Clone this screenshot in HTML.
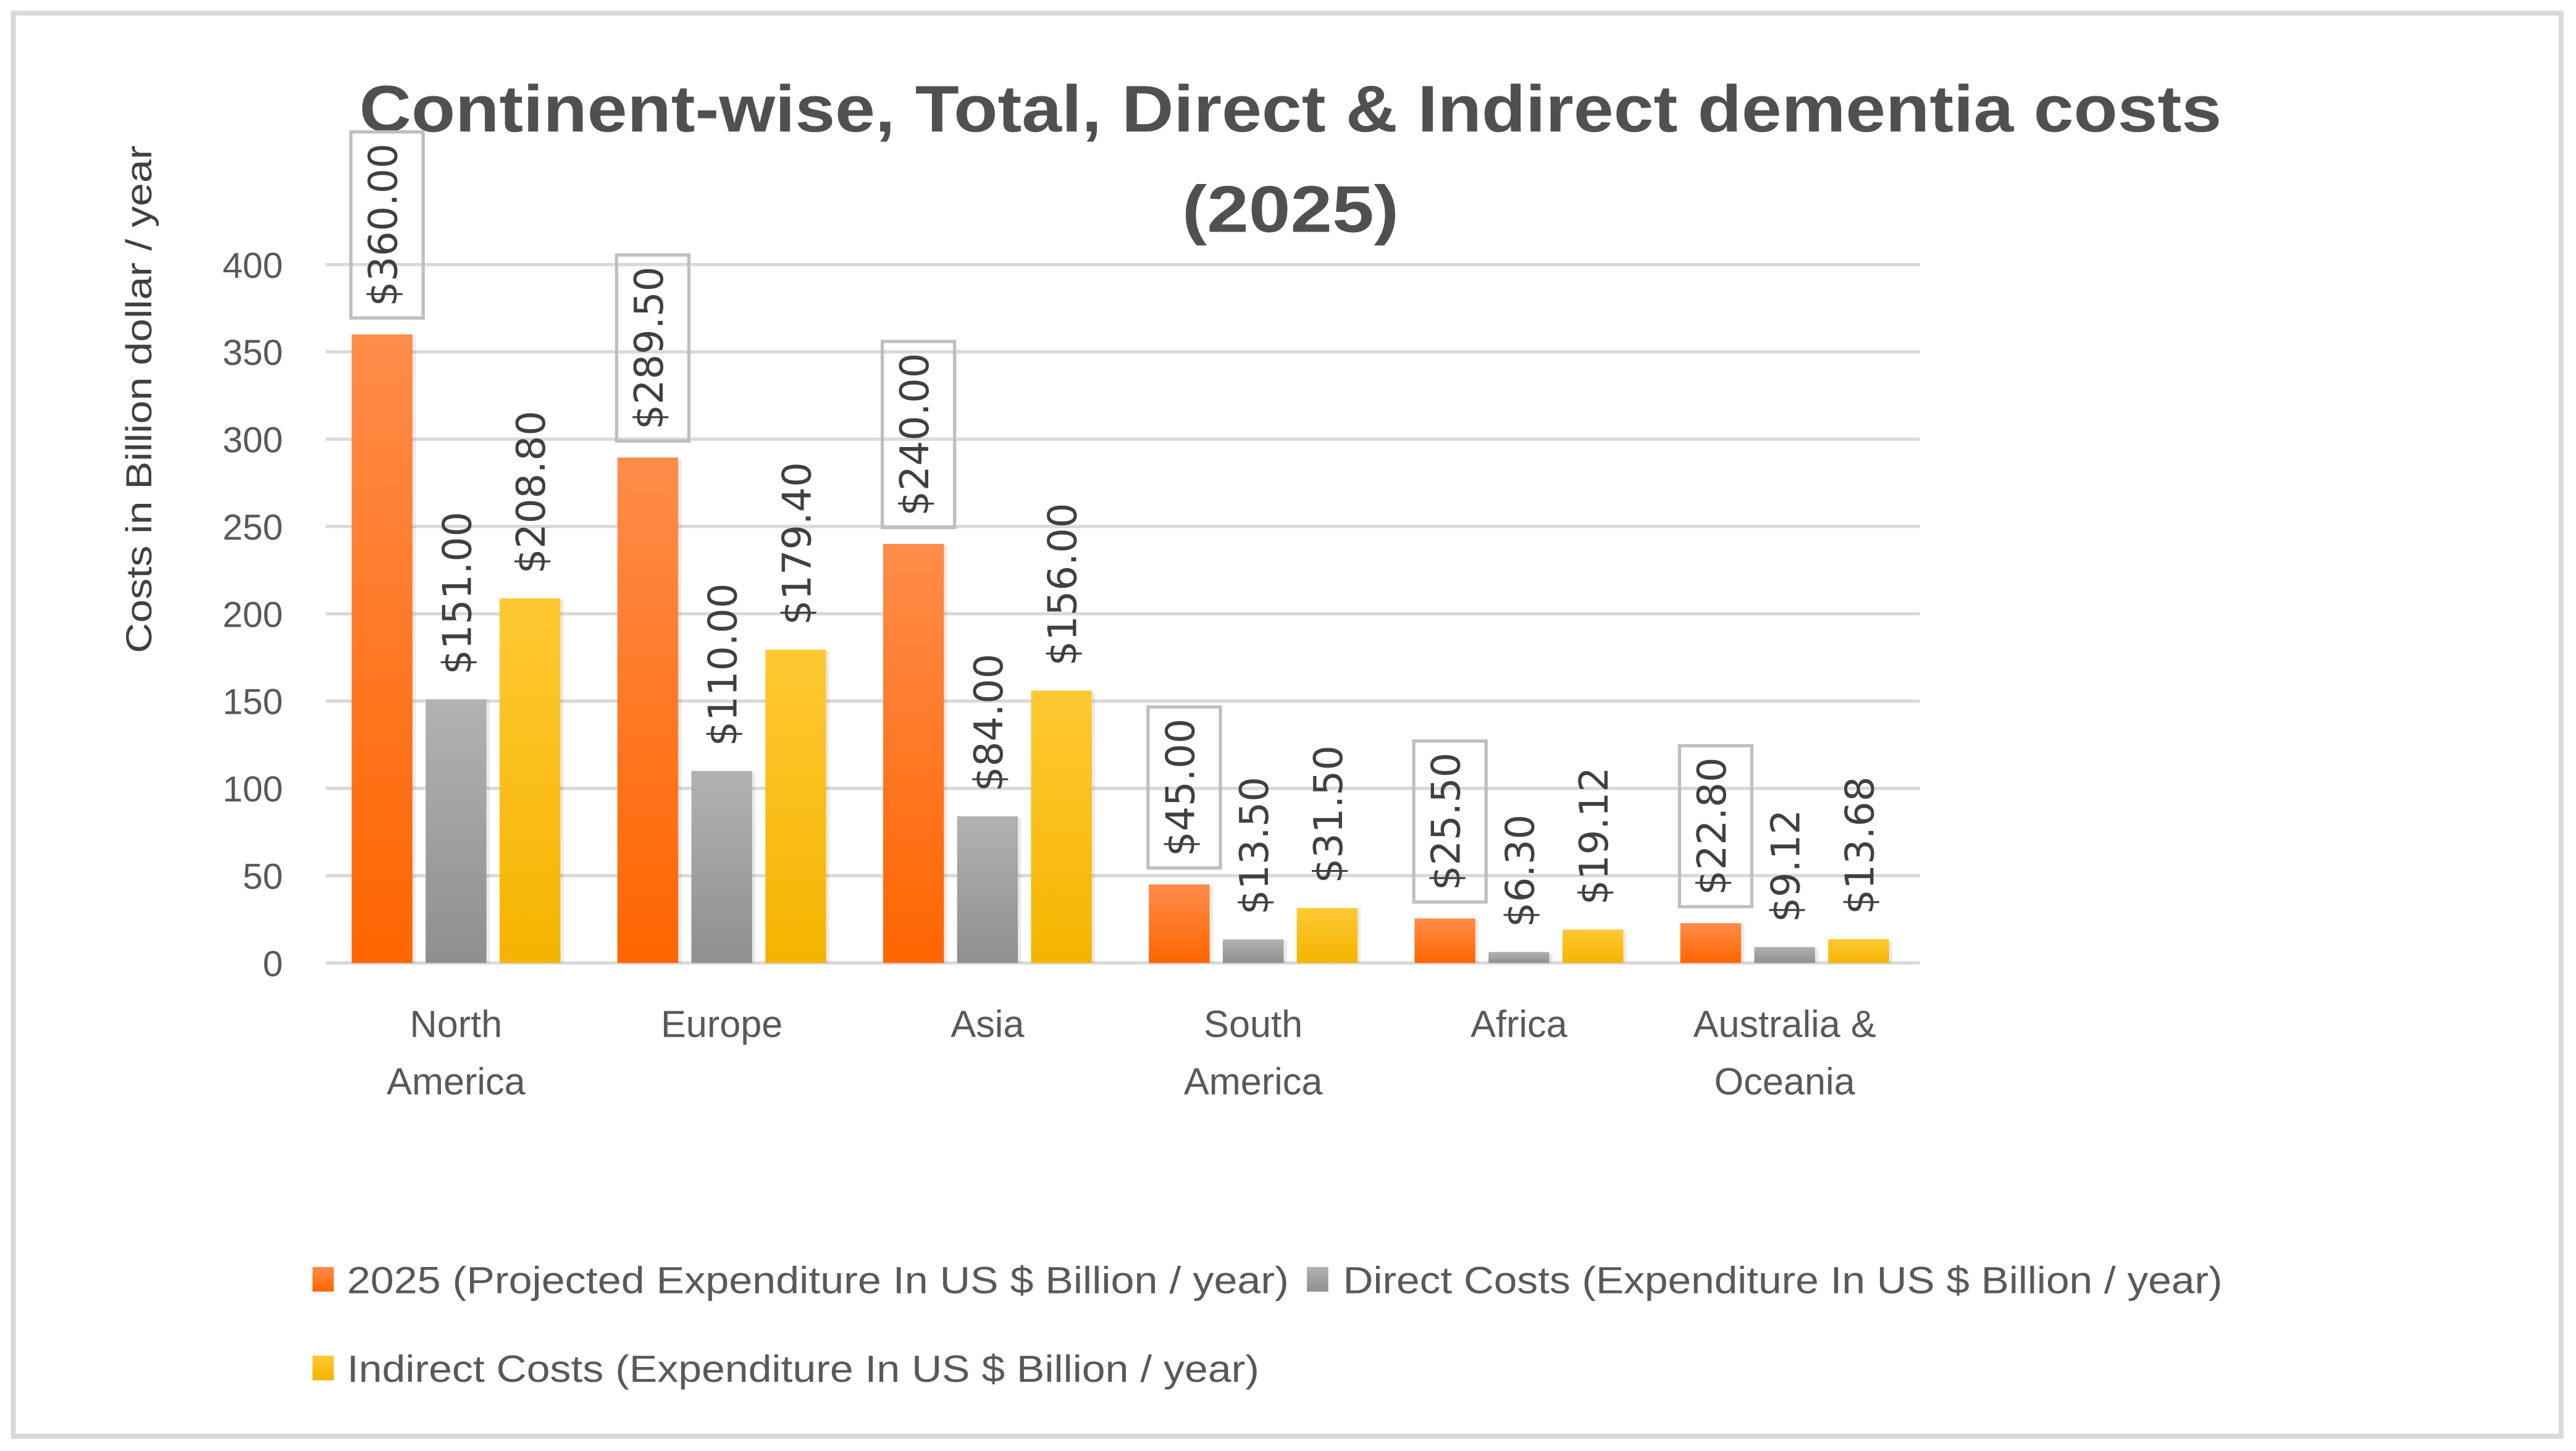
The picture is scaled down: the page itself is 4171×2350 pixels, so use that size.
<!DOCTYPE html>
<html><head><meta charset="utf-8"><style>
html,body{margin:0;padding:0;background:#fff;}
svg{display:block;}
</style></head><body>
<svg id="chart" width="4171" height="2350" viewBox="0 0 1567 883" xmlns="http://www.w3.org/2000/svg">
<defs>
<linearGradient id="gO" x1="0" y1="0" x2="0" y2="1"><stop offset="0" stop-color="#ff8c4a"/><stop offset="1" stop-color="#ff6500"/></linearGradient>
<linearGradient id="gG" x1="0" y1="0" x2="0" y2="1"><stop offset="0" stop-color="#b2b2b2"/><stop offset="1" stop-color="#8f8f8f"/></linearGradient>
<linearGradient id="gY" x1="0" y1="0" x2="0" y2="1"><stop offset="0" stop-color="#ffc933"/><stop offset="1" stop-color="#f4b400"/></linearGradient>
</defs>
<rect x="8" y="8" width="1550" height="866" fill="#fff" stroke="#d9d9d9" stroke-width="3"/>
<text x="785" y="80" text-anchor="middle" font-family="Liberation Sans, sans-serif" font-weight="bold" font-size="40" fill="#505050" textLength="1133" lengthAdjust="spacingAndGlyphs">Continent-wise, Total, Direct &amp; Indirect dementia costs</text>
<text x="785" y="141" text-anchor="middle" font-family="Liberation Sans, sans-serif" font-weight="bold" font-size="40" fill="#505050" textLength="132" lengthAdjust="spacingAndGlyphs">(2025)</text>
<text transform="translate(92,243) rotate(-90)" text-anchor="middle" font-family="Liberation Sans, sans-serif" font-size="22" fill="#404040" textLength="309" lengthAdjust="spacingAndGlyphs">Costs in Billion dollar / year</text>
<g id="grid"></g>
<g id="bars"></g>
<g id="labels"></g>
<g id="legend">
<rect x="190" y="771" width="13" height="15" fill="url(#gO)"/>
<text x="211" y="787" font-family="Liberation Sans, sans-serif" font-size="23" fill="#595959" textLength="573" lengthAdjust="spacingAndGlyphs">2025 (Projected Expenditure In US $ Billion / year)</text>
<rect x="795" y="771" width="13" height="15" fill="url(#gG)"/>
<text x="817" y="787" font-family="Liberation Sans, sans-serif" font-size="23" fill="#595959" textLength="535" lengthAdjust="spacingAndGlyphs">Direct Costs (Expenditure In US $ Billion / year)</text>
<rect x="190" y="825" width="13" height="15" fill="url(#gY)"/>
<text x="211" y="841" font-family="Liberation Sans, sans-serif" font-size="23" fill="#595959" textLength="555" lengthAdjust="spacingAndGlyphs">Indirect Costs (Expenditure In US $ Billion / year)</text>
</g>
</svg>
<script>
const categories = [["North","America"],["Europe"],["Asia"],["South","America"],["Africa"],["Australia &","Oceania"]];
const projected = [360.00, 289.50, 240.00, 45.00, 25.50, 22.80];
const direct = [151.00, 110.00, 84.00, 13.50, 6.30, 9.12];
const indirect = [208.80, 179.40, 156.00, 31.50, 19.12, 13.68];
const yTicks = [0, 50, 100, 150, 200, 250, 300, 350, 400];

const NS = "http://www.w3.org/2000/svg";
const X0 = 198, X1 = 1168, Y0 = 586, Y400 = 161;
const yScale = v => Y0 - (v / 400) * (Y0 - Y400);
const groupW = (X1 - X0) / categories.length;
const xCenter = i => X0 + groupW * (i + 0.5) - 1.5;
const BW = 37;
function mk(tag, attrs, parent, txt) {
  const e = document.createElementNS(NS, tag);
  for (const k in attrs) e.setAttribute(k, attrs[k]);
  if (txt !== undefined) e.textContent = txt;
  parent.appendChild(e);
  return e;
}
const grid = document.getElementById('grid');
yTicks.forEach(t => {
  const y = yScale(t);
  const l = mk('line', {x1: X0, x2: X1, y1: y, y2: y, stroke: '#d9d9d9', 'stroke-width': 2}, grid);
  
  
  const tx = mk('text', {x: 172, y: y + 8, 'text-anchor': 'end', 'font-family': 'Liberation Sans, sans-serif', 'font-size': 22, fill: '#595959'}, grid, String(t));
  
  
});
const series = [
  {vals: projected, fill: 'url(#gO)', off: -45, name: 'projected', boxed: true},
  {vals: direct, fill: 'url(#gG)', off: 0, name: 'direct', boxed: false},
  {vals: indirect, fill: 'url(#gY)', off: 45, name: 'indirect', boxed: false}
];
const bars = document.getElementById('bars');
const labels = document.getElementById('labels');
series.forEach(s => {
  s.vals.forEach((v, i) => {
    const cx = xCenter(i) + s.off;
    const y = yScale(v);
    const sh = mk('rect', {x: cx - BW / 2 + 2, y: y + 1, width: BW, height: Y0 - y - 1, fill: '#000', opacity: 0.08}, bars);
    
    
    const r = mk('rect', {x: cx - BW / 2, y: y, width: BW, height: Y0 - y, fill: s.fill}, bars);
    
    
    const txt = '$' + v.toFixed(2);
    const tb = s.boxed ? y - 17 : y - 15;
    const g = mk('g', {transform: 'translate(' + (cx + 9) + ',' + tb + ') rotate(-90)'}, labels);
    
    
    const t = mk('text', {x: 0, y: 0, 'font-family': 'DejaVu Sans, sans-serif', 'font-size': 24, fill: '#404040'}, g, txt);
    
    
    if (s.boxed) {
      const len = t.getComputedTextLength();
      const b = mk('rect', {x: -7, y: -28, width: len + 14, height: 44, fill: 'none', stroke: '#bfbfbf', 'stroke-width': 2}, g);
      
      
    }
  });
});
categories.forEach((c, i) => {
  c.forEach((line, j) => {
    const t = mk('text', {x: xCenter(i), y: 631 + j * 35, 'text-anchor': 'middle', 'font-family': 'Liberation Sans, sans-serif', 'font-size': 23, fill: '#595959'}, grid, line);
    
    
  });
});
</script>
</body></html>
